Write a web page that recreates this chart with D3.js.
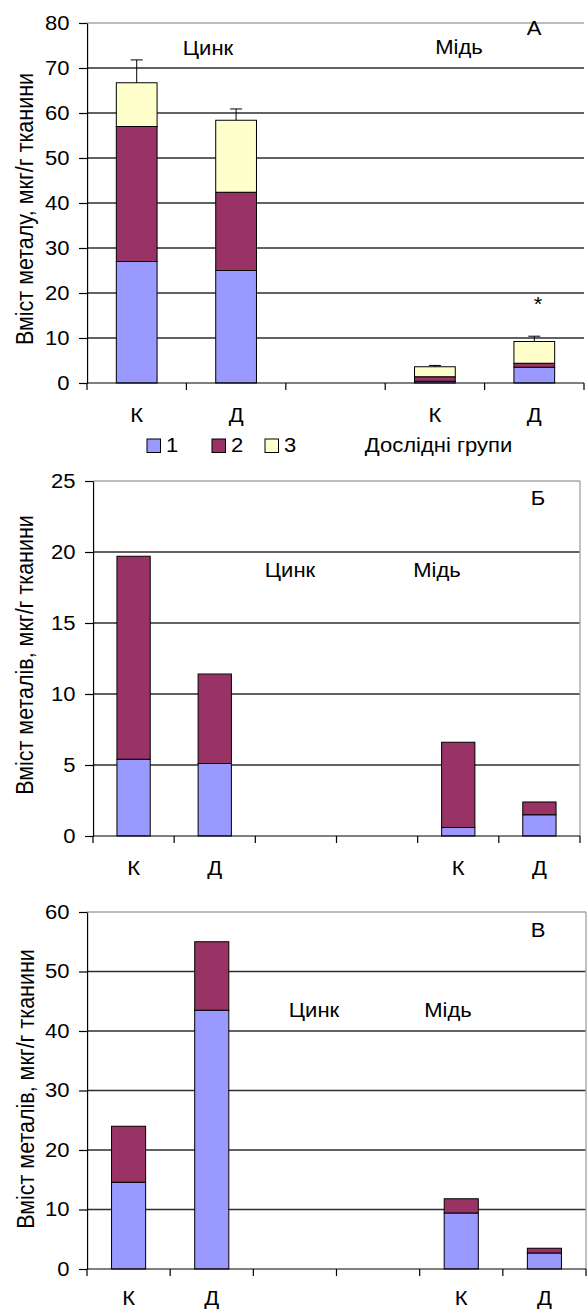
<!DOCTYPE html>
<html><head><meta charset="utf-8">
<script src="https://cdn.jsdelivr.net/npm/d3@7"></script>
<style>
body{margin:0;background:#fff}
text{font-family:"Liberation Sans",Arial,sans-serif;fill:#000}
</style>
</head><body><svg id="c"></svg>
<script>
// ---------- data ----------
const seriesNames = ["1", "2", "3"];
const seriesColors = ["#9999FF", "#993366", "#FFFFCC"];

// Panel А
const catsA = ["К", "Д", "", "К", "Д"];
const a1 = [27, 25, 0, 0.4, 3.5];
const a2 = [30, 17.4, 0, 1.0, 0.9];
const a3 = [9.7, 16.0, 0, 2.2, 4.8];
const errA = [5.1, 2.5, 0, 0.3, 1.2];
const ticksA = [0, 10, 20, 30, 40, 50, 60, 70, 80];

// Panel Б
const catsB = ["К", "Д", "", "", "К", "Д"];
const b1 = [5.4, 5.1, 0, 0, 0.6, 1.5];
const b2 = [14.3, 6.3, 0, 0, 6.0, 0.9];
const ticksB = [0, 5, 10, 15, 20, 25];

// Panel В
const catsC = ["К", "Д", "", "", "К", "Д"];
const c1 = [14.6, 43.5, 0, 0, 9.4, 2.7];
const c2 = [9.4, 11.5, 0, 0, 2.4, 0.8];
const ticksC = [0, 10, 20, 30, 40, 50, 60];

const titleA = "Вміст металу, мкг/г тканини";
const titleBC = "Вміст металів, мкг/г тканини";

// ---------- layout ----------
const S = 1.13;              // horizontal stretch of the original picture
const X = px => px / S;      // pixel -> viewBox units
const svg = d3.select("#c")
  .attr("width", 587).attr("height", 1310)
  .attr("viewBox", `0 0 ${587 / S} 1310`)
  .attr("preserveAspectRatio", "none");

function drawPanel(o) {
  const g = svg.append("g");
  const n = o.cats.length;
  const x = d3.scaleBand().domain(d3.range(n)).range([X(o.left), X(o.right)]);
  const y = d3.scaleLinear().domain([0, o.max]).range([o.bottom, o.top]);
  const bw = x.bandwidth() * 0.41;

  // gridlines
  g.selectAll(".grid").data(o.ticks.filter(t => t > 0 && t < o.max)).join("line")
    .attr("x1", X(o.left)).attr("x2", X(o.right))
    .attr("y1", d => y(d)).attr("y2", d => y(d))
    .attr("stroke", "#2e2e2e").attr("stroke-width", 1.4)
    .attr("vector-effect", "non-scaling-stroke");
  // plot border (top / right)
  g.append("line").attr("x1", X(o.left)).attr("x2", X(o.right))
    .attr("y1", y(o.max)).attr("y2", y(o.max))
    .attr("stroke", "#a6a6a6").attr("stroke-width", 1.4)
    .attr("vector-effect", "non-scaling-stroke");
  if (o.rightBorder) {
    g.append("line").attr("x1", X(o.right)).attr("x2", X(o.right))
      .attr("y1", y(o.max)).attr("y2", y(0))
      .attr("stroke", "#a6a6a6").attr("stroke-width", 1.4)
      .attr("vector-effect", "non-scaling-stroke");
  }

  // stacked bars
  const rows = d3.range(n).map(i => {
    const r = { i };
    o.series.forEach((s, k) => r["s" + k] = s[i]);
    return r;
  });
  const keys = o.series.map((s, k) => "s" + k);
  const stacked = d3.stack().keys(keys)(rows);
  stacked.forEach((layer, k) => {
    g.selectAll(".bar" + k).data(layer.filter(d => d[1] - d[0] > 0)).join("rect")
      .attr("x", d => x(d.data.i) + (x.bandwidth() - bw) / 2)
      .attr("width", bw)
      .attr("y", d => y(d[1]))
      .attr("height", d => y(d[0]) - y(d[1]))
      .attr("fill", seriesColors[k])
      .attr("stroke", "#000").attr("stroke-width", 1)
      .attr("vector-effect", "non-scaling-stroke");
  });

  // error bars
  if (o.err) {
    const tot = d3.range(n).map(i => d3.sum(o.series, s => s[i]));
    const eb = d3.range(n).filter(i => o.err[i] > 0);
    g.selectAll(".ev").data(eb).join("line")
      .attr("x1", i => x(i) + x.bandwidth() / 2).attr("x2", i => x(i) + x.bandwidth() / 2)
      .attr("y1", i => y(tot[i])).attr("y2", i => y(tot[i] + o.err[i]))
      .attr("stroke", "#000").attr("stroke-width", 1).attr("vector-effect", "non-scaling-stroke");
    g.selectAll(".eh").data(eb).join("line")
      .attr("x1", i => x(i) + x.bandwidth() / 2 - X(6)).attr("x2", i => x(i) + x.bandwidth() / 2 + X(6))
      .attr("y1", i => y(tot[i] + o.err[i])).attr("y2", i => y(tot[i] + o.err[i]))
      .attr("stroke", "#000").attr("stroke-width", 1).attr("vector-effect", "non-scaling-stroke");
  }

  // y axis
  const ya = g.append("g").attr("transform", `translate(${X(o.left)},0)`)
    .call(d3.axisLeft(y).tickValues(o.ticks).tickSize(X(8)).tickSizeOuter(0).tickPadding(X(9.5)));
  ya.selectAll("path,line").attr("stroke", "#000").attr("stroke-width", 1.2)
    .attr("vector-effect", "non-scaling-stroke");
  ya.selectAll("text").attr("font-size", 19.5).attr("font-family", null);

  // x axis
  g.append("line").attr("x1", X(o.left)).attr("x2", X(o.right))
    .attr("y1", y(0)).attr("y2", y(0))
    .attr("stroke", "#000").attr("stroke-width", 1.2).attr("vector-effect", "non-scaling-stroke");
  const bounds = d3.range(n + 1).map(i => X(o.left) + i * x.step());
  g.selectAll(".xt").data(bounds).join("line")
    .attr("x1", d => d).attr("x2", d => d)
    .attr("y1", y(0)).attr("y2", y(0) + 7)
    .attr("stroke", "#000").attr("stroke-width", 1.2).attr("vector-effect", "non-scaling-stroke");
  g.selectAll(".xl").data(d3.range(n).filter(i => o.cats[i] !== "")).join("text")
    .attr("x", i => x(i) + x.bandwidth() / 2).attr("y", y(0) + o.catDy)
    .attr("text-anchor", "middle").attr("font-size", 19.5)
    .text(i => o.cats[i]);

  // y title
  g.append("text").attr("transform", `translate(${X(o.titleX)},${o.titleY}) rotate(-90)`)
    .attr("text-anchor", "middle").attr("font-size", 21.5).text(o.title);

  // annotations
  o.notes.forEach(t => {
    g.append("text").attr("x", X(t[1])).attr("y", t[2]).attr("text-anchor", "middle")
      .attr("font-size", t[3] || 19.5).text(t[0]);
  });
  return { x, y };
}

drawPanel({
  cats: catsA, series: [a1, a2, a3], err: errA, ticks: ticksA, max: 80,
  left: 87, right: 584, bottom: 383, top: 23, rightBorder: false, catDy: 39,
  title: titleA, titleX: 33, titleY: 209,
  notes: [["Цинк", 208, 55], ["Мідь", 459, 54], ["А", 534, 35], ["*", 538, 311]]
});
drawPanel({
  cats: catsB, series: [b1, b2], ticks: ticksB, max: 25,
  left: 93, right: 580, bottom: 836, top: 481, rightBorder: true, catDy: 39,
  title: titleBC, titleX: 33.5, titleY: 655,
  notes: [["Цинк", 290, 577], ["Мідь", 437, 577], ["Б", 538, 505]]
});
drawPanel({
  cats: catsC, series: [c1, c2], ticks: ticksC, max: 60,
  left: 87, right: 586, bottom: 1269, top: 912, rightBorder: true, catDy: 36,
  title: titleBC, titleX: 34, titleY: 1089,
  notes: [["Цинк", 314, 1017], ["Мідь", 448, 1017], ["В", 538, 937]]
});

// legend (panel А)
const legX = [147, 212, 265];
const leg = svg.append("g");
seriesNames.forEach((nm, k) => {
  leg.append("rect").attr("x", X(legX[k])).attr("y", 439).attr("width", X(13.5)).attr("height", 13.5)
    .attr("fill", seriesColors[k]).attr("stroke", "#000").attr("stroke-width", 1)
    .attr("vector-effect", "non-scaling-stroke");
  leg.append("text").attr("x", X(legX[k] + 19)).attr("y", 452.5).attr("font-size", 19.5).text(nm);
});
leg.append("text").attr("x", X(438.5)).attr("y", 452.5).attr("text-anchor", "middle")
  .attr("font-size", 19.5).text("Дослідні групи");
</script>
</body></html>
